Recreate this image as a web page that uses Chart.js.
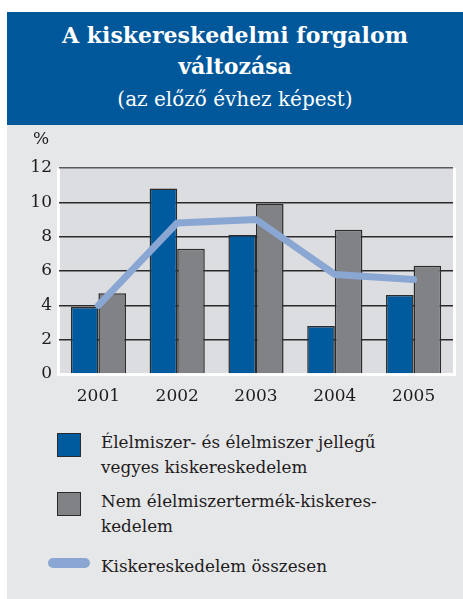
<!DOCTYPE html>
<html lang="hu">
<head>
    <meta charset="UTF-8">
    <title>A kiskereskedelmi forgalom változása</title>
    <script src="https://cdn.jsdelivr.net/npm/chart.js@4.4.1/dist/chart.umd.min.js"></script>
    <style>
        body {
            margin: 0;
            background-color: #ffffff;
            font-family: "DejaVu Serif", serif;
        }
        .panel {
            position: absolute;
            left: 7px;
            top: 12px;
            width: 456px;
            height: 587px;
            background-color: #e6e7e9;
        }
        .header {
            position: absolute;
            left: 0;
            top: 0;
            width: 456px;
            height: 113px;
            background-color: #00579a;
            color: #ffffff;
            text-align: center;
        }
        .header .title {
            position: absolute;
            left: 0;
            width: 100%;
            top: 8px;
            font-size: 22px;
            font-weight: bold;
            line-height: 31px;
        }
        .header .subtitle {
            position: absolute;
            left: 0;
            width: 100%;
            top: 72px;
            font-size: 20px;
            line-height: 30px;
        }
        .chart-box {
            position: absolute;
            left: 0;
            top: 113px;
        }
        .legend-item {
            position: absolute;
            left: 94px;
            font-size: 16.8px;
            line-height: 25px;
            color: #1e1b1c;
        }
        .legend-mark {
            position: absolute;
            box-sizing: border-box;
        }
    </style>
</head>
<body>
    <div class="panel">
        <div class="header">
            <div class="title">A kiskereskedelmi forgalom<br>változása</div>
            <div class="subtitle">(az előző évhez képest)</div>
        </div>
        <div class="chart-box">
            <canvas id="retailChart" width="456" height="290"></canvas>
        </div>
        <div id="legend"></div>
    </div>

    <script>
        // Kiskereskedelmi forgalom változása, % (előző év = 100)
        const years = ['2001', '2002', '2003', '2004', '2005'];
        const foodRetail = [3.9, 10.8, 8.1, 2.8, 4.6];
        const nonFoodRetail = [4.7, 7.3, 9.9, 8.4, 6.3];
        const totalRetail = [4.0, 8.8, 9.0, 5.8, 5.5];
        const yTicks = [0, 2, 4, 6, 8, 10, 12];

        const foodLabel = ['Élelmiszer- és élelmiszer jellegű', 'vegyes kiskereskedelem'];
        const nonFoodLabel = ['Nem élelmiszertermék-kiskeres-', 'kedelem'];
        const totalLabel = ['Kiskereskedelem összesen'];

        const BLUE = '#005a9e';
        const GREY = '#818286';
        const LINE = '#8aa6d2';
        const EDGE = '#2b2b2b';
        const TEXT = '#1e1b1c';
        const FONT = '"DejaVu Serif", serif';

        // plot background, white frame and the "%" unit label
        const plotFrame = {
            id: 'plotFrame',
            beforeDraw(chart) {
                const { ctx, chartArea: a } = chart;
                ctx.save();
                ctx.fillStyle = '#ffffff';
                ctx.fillRect(a.left - 2, a.top, a.right - a.left + 5, a.bottom - a.top + 2);
                ctx.fillStyle = '#dcdde0';
                ctx.fillRect(a.left + 1, a.top, a.right - a.left - 1, a.bottom - a.top - 1);
                ctx.fillStyle = TEXT;
                ctx.font = '17px ' + FONT;
                ctx.textAlign = 'center';
                ctx.textBaseline = 'middle';
                ctx.fillText('%', 34, 15);
                ctx.restore();
            }
        };

        const ctx = document.getElementById('retailChart').getContext('2d');
        new Chart(ctx, {
            type: 'bar',
            data: {
                labels: years,
                datasets: [
                    {
                        type: 'line',
                        label: totalLabel.join(' '),
                        data: totalRetail,
                        borderColor: LINE,
                        borderWidth: 7,
                        borderCapStyle: 'round',
                        borderJoinStyle: 'bevel',
                        pointRadius: 0,
                        tension: 0,
                        fill: false,
                        order: 0
                    },
                    {
                        label: foodLabel.join(' '),
                        data: foodRetail,
                        backgroundColor: BLUE,
                        borderColor: EDGE,
                        borderWidth: 1.5,
                        order: 1
                    },
                    {
                        label: nonFoodLabel.join(''),
                        data: nonFoodRetail,
                        backgroundColor: GREY,
                        borderColor: EDGE,
                        borderWidth: 1.5,
                        order: 2
                    }
                ]
            },
            options: {
                responsive: false,
                animation: false,
                layout: {
                    padding: { left: 0, right: 10, top: 43, bottom: 11 }
                },
                datasets: {
                    bar: {
                        categoryPercentage: 0.7,
                        barPercentage: 1.0
                    }
                },
                plugins: {
                    legend: { display: false },
                    tooltip: { enabled: false }
                },
                scales: {
                    x: {
                        grid: { display: false },
                        border: { display: false },
                        ticks: {
                            color: TEXT,
                            font: { family: FONT, size: 17 },
                            padding: 4
                        },
                        afterFit(scale) { scale.height = 30; }
                    },
                    y: {
                        min: 0,
                        max: 12,
                        afterBuildTicks(scale) {
                            scale.ticks = yTicks.map(v => ({ value: v }));
                        },
                        grid: {
                            drawTicks: false,
                            lineWidth: 1.5,
                            color(c) {
                                if (c.tick.value === 0) return 'rgba(0,0,0,0)';
                                if (c.tick.value === 12) return '#5a5b5d';
                                return '#2b2b2b';
                            }
                        },
                        border: { display: false },
                        ticks: {
                            color: TEXT,
                            font: { family: FONT, size: 17 },
                            padding: 7
                        },
                        afterFit(scale) { scale.width = 52; }
                    }
                }
            },
            plugins: [plotFrame]
        });

        // legend built from the same labels and colours as the datasets
        const legend = document.getElementById('legend');
        const legendItems = [
            { lines: foodLabel, kind: 'box', color: BLUE, top: 418 },
            { lines: nonFoodLabel, kind: 'box', color: GREY, top: 477 },
            { lines: totalLabel, kind: 'line', color: LINE, top: 542 }
        ];
        legendItems.forEach(item => {
            const mark = document.createElement('div');
            mark.className = 'legend-mark';
            if (item.kind === 'box') {
                mark.style.left = '50px';
                mark.style.top = (item.top + 3) + 'px';
                mark.style.width = '24px';
                mark.style.height = '24px';
                mark.style.background = item.color;
                mark.style.border = '1.5px solid ' + EDGE;
            } else {
                mark.style.left = '41px';
                mark.style.top = (item.top + 4) + 'px';
                mark.style.width = '42px';
                mark.style.height = '10px';
                mark.style.borderRadius = '5px';
                mark.style.background = item.color;
            }
            legend.appendChild(mark);

            const text = document.createElement('div');
            text.className = 'legend-item';
            text.style.top = item.top + 'px';
            text.innerHTML = item.lines.join('<br>');
            legend.appendChild(text);
        });
    </script>
</body>
</html>
